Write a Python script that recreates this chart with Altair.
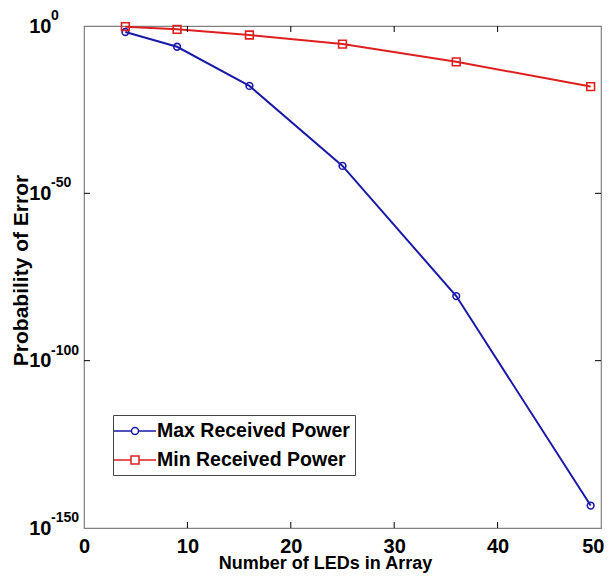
import altair as alt
import pandas as pd

# ---- data ----
leds = [4, 9, 16, 25, 36, 49]
max_power_exp = [-1.8, -6.2, -17.9, -41.8, -80.7, -143.3]   # log10 of probability
min_power_exp = [-0.2, -1.0, -2.7, -5.4, -10.7, -18.1]
series = ["Max Received Power", "Min Received Power"]
colors = ["#1a1aa8", "#dd1f1f"]
x_label_values = [0, 10, 20, 30, 40, 50]
x_tick_values = [10, 20, 30, 40]
y_label_exps = [0, -50, -100, -150]
y_tick_exps = [-50, -100]

rows = []
for n, e in zip(leds, max_power_exp):
    rows.append({"leds": n, "p": 10.0 ** e, "series": series[0]})
for n, e in zip(leds, min_power_exp):
    rows.append({"leds": n, "p": 10.0 ** e, "series": series[1]})
df = pd.DataFrame(rows)

W, H = 517, 502
FONT = "Liberation Sans"

xscale = alt.Scale(domain=[0, 50], nice=False, zero=False)
yscale = alt.Scale(type="log", domain=[1e-150, 1], nice=False)
cscale = alt.Scale(domain=series, range=colors)

x_axis = alt.Axis(values=x_label_values, title="Number of LEDs in Array", ticks=False,
                  domain=False, grid=False, labelFont=FONT, labelFontSize=20,
                  labelFontWeight="bold", labelColor="black", labelPadding=8,
                  labelFlush=False,
                  labelAlign=alt.condition("datum.value == 50", alt.value("right"), alt.value("center")),
                  labelOffset=alt.condition("datum.value == 50", alt.value(3), alt.value(0)),
                  titleFont=FONT, titleFontSize=18, titleFontWeight="bold",
                  titleColor="black", titleX=241, titleY=26, titleBaseline="top")
y_axis = alt.Axis(values=[10.0 ** e for e in y_label_exps], labelExpr="'10'",
                  title="Probability of Error", ticks=False, domain=False, grid=False,
                  labelFont=FONT, labelFontSize=20, labelFontWeight="bold",
                  labelColor="black", labelPadding=33, labelFlush=False,
                  titleFont=FONT, titleFontSize=21, titleFontWeight="bold",
                  titleColor="black", titleX=-63, titleY=244, titleBaseline="middle",
                  titleAngle=-90)

base = alt.Chart(df).encode(
    x=alt.X("leds:Q", scale=xscale, axis=x_axis),
    y=alt.Y("p:Q", scale=yscale, axis=y_axis),
)

lines = base.mark_line(strokeWidth=2).encode(
    color=alt.Color("series:N", scale=cscale, legend=None),
    detail="series:N",
)
pts_max = base.transform_filter(alt.datum.series == series[0]).mark_point(
    shape="circle", size=45, strokeWidth=1.6, filled=False, opacity=1
).encode(color=alt.Color("series:N", scale=cscale, legend=None))
pts_min = base.transform_filter(alt.datum.series == series[1]).mark_point(
    shape="square", size=60, strokeWidth=1.6, filled=False, opacity=1
).encode(color=alt.Color("series:N", scale=cscale, legend=None))

circle_path = "M-2.1,0H-0.35M0.35,0H2.1M-0.35,0A0.35,0.35,0,1,1,0.35,0A0.35,0.35,0,1,1,-0.35,0Z"
square_path = "M-2.1,0H-0.4M0.4,0H2.1M-0.4,-0.4H0.4V0.4H-0.4Z"
legend_props = dict(orient="none", legendX=29, legendY=389, title=None,
                    fillColor="white", strokeColor="#444444", padding=5,
                    symbolSize=400, symbolStrokeWidth=1.5, symbolOffset=6,
                    labelOffset=11, labelFont=FONT, labelFontSize=19.5,
                    labelFontWeight="bold", labelColor="black", rowPadding=8,
                    labelLimit=0, symbolFillColor="transparent", symbolOpacity=1)
legend_layer = base.mark_point(opacity=0, filled=False, strokeWidth=1.5).encode(
    color=alt.Color("series:N", scale=cscale, legend=alt.Legend(**legend_props)),
    shape=alt.Shape("series:N", scale=alt.Scale(domain=series, range=[circle_path, square_path]),
                    legend=alt.Legend(**legend_props)),
)

# superscript exponents of the y tick labels
exp_df = pd.DataFrame({"p": [10.0 ** e for e in y_label_exps], "e": [str(e) for e in y_label_exps]})
exps = alt.Chart(exp_df).mark_text(
    align="left", baseline="middle", dy=-10, font=FONT, fontSize=14,
    fontWeight="bold", color="black"
).encode(y=alt.Y("p:Q", scale=yscale), x=alt.value(-33), text="e:N")

# inward ticks on all four sides
xt = pd.DataFrame({"leds": x_tick_values})
yt = pd.DataFrame({"p": [10.0 ** e for e in y_tick_exps]})
tick_b = alt.Chart(xt).mark_rule(color="black", strokeWidth=1).encode(
    x=alt.X("leds:Q", scale=xscale), y=alt.value(H - 6), y2=alt.value(H))
tick_t = alt.Chart(xt).mark_rule(color="black", strokeWidth=1).encode(
    x=alt.X("leds:Q", scale=xscale), y=alt.value(0), y2=alt.value(6))
tick_l = alt.Chart(yt).mark_rule(color="black", strokeWidth=1).encode(
    y=alt.Y("p:Q", scale=yscale), x=alt.value(0), x2=alt.value(6))
tick_r = alt.Chart(yt).mark_rule(color="black", strokeWidth=1).encode(
    y=alt.Y("p:Q", scale=yscale), x=alt.value(W - 6), x2=alt.value(W))

chart = alt.layer(
    lines, pts_max, pts_min, legend_layer, exps, tick_b, tick_t, tick_l, tick_r
).resolve_scale(color="independent", shape="independent").properties(
    width=W, height=H,
    autosize=alt.AutoSizeParams(type="none"),
    padding={"left": 76, "top": 18, "right": 4, "bottom": 45},
).configure_view(stroke="#808080", strokeWidth=1.2).configure_axis(grid=False)

chart.save("out.html", embed_options={"renderer": "svg", "actions": False})
